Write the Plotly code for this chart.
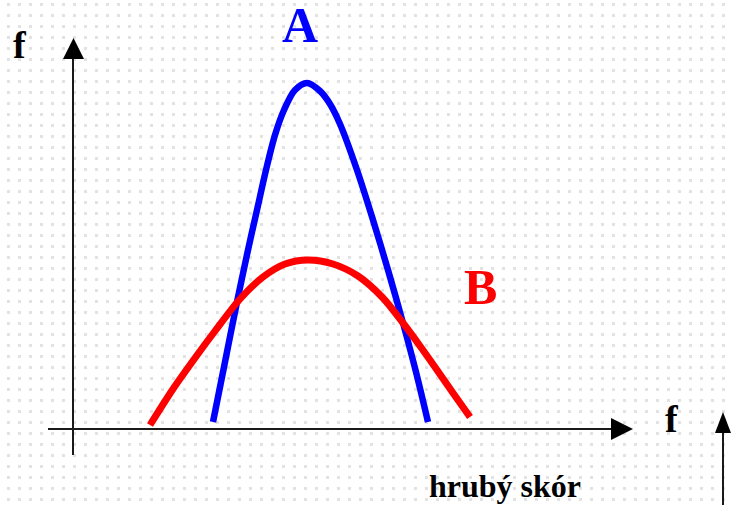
import base64
import plotly.graph_objects as go

# === Curve data (score position, frequency above the baseline) ===
score_a = [213, 225, 237, 248, 257, 266, 275, 284, 295, 307, 320, 330, 340, 357, 373, 388, 403, 416, 428]
freq_a = [7, 67, 127, 179, 219, 259, 294, 319, 339, 346, 338, 325, 305, 259, 209, 159, 106, 57, 7]

score_b = [150, 173, 195, 215, 240, 263, 285, 308, 333, 358, 383, 403, 420, 437, 453, 470]
freq_b = [4, 40, 71, 98, 130, 152, 165, 169, 165, 153, 131, 106, 83, 59, 36, 12]

curve_labels = ["A", "B"]
axis_label_y = "f"
axis_label_x = "f"
x_title = "hrubý skór"

# === Dotted paper background ===
svg = (
    '<svg xmlns="http://www.w3.org/2000/svg" width="731" height="505">'
    '<defs><pattern id="d" width="11" height="11" patternUnits="userSpaceOnUse" x="7" y="3">'
    '<rect width="3" height="3" fill="#e2e2e2"/></pattern></defs>'
    '<rect width="731" height="505" fill="url(#d)"/></svg>'
)
dots = "data:image/svg+xml;base64," + base64.b64encode(svg.encode()).decode()

fig = go.Figure()
fig.add_trace(go.Scatter(x=score_a, y=freq_a, mode="lines",
                         line=dict(color="#0000ff", width=6.5, shape="spline", smoothing=0.9),
                         showlegend=False, hoverinfo="skip"))
fig.add_trace(go.Scatter(x=score_b, y=freq_b, mode="lines",
                         line=dict(color="#ff0000", width=7, shape="spline", smoothing=0.8),
                         showlegend=False, hoverinfo="skip"))

# === Axes drawn as arrows ===
axis_line = dict(color="#1a1a1a", width=2)
fig.add_shape(type="line", x0=73, x1=73, y0=-26, y1=372, line=axis_line, layer="below")
fig.add_shape(type="path", path="M 63,370 L 84,370 L 73.5,391 Z", fillcolor="black", line=dict(width=0))
fig.add_shape(type="line", x0=48, x1=614, y0=0, y1=0, line=axis_line, layer="below")
fig.add_shape(type="path", path="M 611,11 L 611,-11 L 633,0 Z", fillcolor="black", line=dict(width=0))
fig.add_shape(type="line", x0=723, x1=723, y0=-80, y1=-2, line=axis_line)
fig.add_shape(type="path", path="M 715,-4 L 731,-4 L 723,17 Z", fillcolor="black", line=dict(width=0))

# === Labels ===
serif = "Liberation Serif, Times New Roman, serif"
fig.add_annotation(x=20, y=384, text=f"<b>{axis_label_y}</b>", showarrow=False,
                   font=dict(family=serif, size=38, color="black"))
fig.add_annotation(x=672, y=10, text=f"<b>{axis_label_x}</b>", showarrow=False,
                   font=dict(family=serif, size=38, color="black"))
fig.add_annotation(x=300, y=404, text=f"<b>{curve_labels[0]}</b>", showarrow=False,
                   font=dict(family=serif, size=50, color="#0000ff"))
fig.add_annotation(x=480, y=142, text=f"<b>{curve_labels[1]}</b>", showarrow=False,
                   font=dict(family=serif, size=50, color="#ff0000"))
fig.add_annotation(x=505, y=-57, text=f"<b>{x_title}</b>", showarrow=False,
                   font=dict(family=serif, size=32, color="black"))

fig.update_layout(
    width=731, height=505,
    margin=dict(l=0, r=0, t=0, b=0),
    paper_bgcolor="white",
    plot_bgcolor="rgba(0,0,0,0)",
    xaxis=dict(range=[0, 731], visible=False, fixedrange=True),
    yaxis=dict(range=[-76, 429], visible=False, fixedrange=True),
    images=[dict(source=dots, xref="paper", yref="paper", x=0, y=1, sizex=1, sizey=1,
                 sizing="stretch", layer="below")],
)

# drop the page's default body margin so the figure sits at the window corner
fig.write_html("out.html", config={"displayModeBar": False},
               post_script="document.body.style.margin='0';")
